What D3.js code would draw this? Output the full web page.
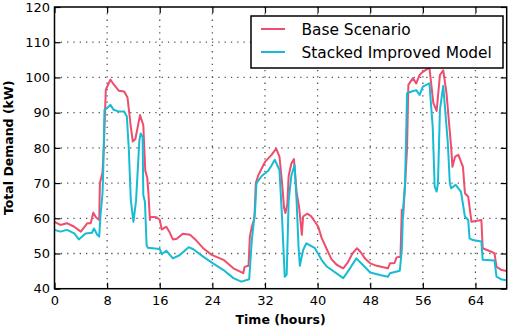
<!DOCTYPE html>
<html>
<head>
<meta charset="utf-8">
<script src="https://cdn.jsdelivr.net/npm/d3@7"></script>
<style>
  body { margin: 0; background: #fff; }
  text { font-family: "DejaVu Sans", sans-serif; fill: #000; }
</style>
</head>
<body>
<div id="my_dataviz"></div>
<script>
// data (hours, kW)
const baseHours = [0,0.9,1.9,3,4,5,5.5,5.9,6.3,6.8,6.9,7.3,7.5,7.8,8.5,9,9.8,10.6,11.1,11.6,11.9,12.3,13,13.5,13.8,14.1,14.3,14.5,14.6,15.5,16,16.3,17,17.5,18,18.6,19.5,20.6,21.5,22.6,23.9,25.7,27.2,28.7,28.9,29.5,29.7,30,30.4,30.6,31,32,33,33.7,34.2,34.6,34.9,35.1,35.4,35.6,36,36.4,36.8,37.2,37.6,37.8,38.4,39,39.6,40.1,40.6,41.4,42.1,42.9,43.9,44.6,45.3,46,46.5,47.2,48,49,50,50.7,51,51.7,52,52.6,52.8,53,53.3,53.6,53.8,54.5,55,55.5,56,57,57.6,58.1,58.6,59.1,59.6,60.1,60.3,60.5,60.9,61.4,62.1,62.4,62.9,63.4,64.9,65.1,66.4,66.9,67.2,68,68.75];
const baseDemand = [59,58.1,58.6,57.6,56.2,58.6,58.6,61.6,60.3,59.5,70,73,80.3,96.5,99.4,98,96.2,96,94.3,86,81.8,82.5,89.3,86.5,73.5,71.5,66.6,59.5,60.4,60.3,59.6,56.8,57.6,56,54,54.2,55.6,55.3,53.8,51.5,49.6,48.2,45.8,44.4,46.2,46.5,54.8,57.6,60,70,72.3,76,78,79.8,77.5,70,63,61.5,64,72,75.5,76.8,67.5,63,55.3,60.5,61.3,60.6,59,57.6,54.5,51.2,48.4,46.8,45.8,47.5,50,51.5,50.5,48.6,47.2,46.5,46.1,45.8,47.2,47.3,48.9,49.1,62.4,60.5,69.5,80,97.9,99.8,98.3,100.7,101.6,102.8,92.7,90.5,100.7,102,95.5,84.6,80.3,74.6,77.5,78,74.6,67.1,66.1,59,59.5,51.5,50.5,50,46.2,45.3,45];

const stackedHours = [0,0.9,1.9,3,3.7,4.7,5.7,6,6.5,6.8,7,7.3,7.4,7.6,7.9,8.5,9,9.8,10.6,11,11.3,11.6,12,12.4,12.9,13.1,13.4,13.5,13.75,14,14.2,16,16.3,17,18,19,20.4,21.1,22.6,24.1,25.7,27.2,28.4,29.6,30,30.5,30.7,31.5,32.5,33,33.5,34.2,34.6,35,35.3,35.6,36,36.5,36.8,37.1,37.3,37.8,38.3,39.6,40.6,41.4,43.9,45,45.9,47,48,49.5,50.7,51,52.5,52.8,53,53.3,53.6,54.3,55,55.5,56,57,57.5,57.8,58.1,58.3,58.6,59.1,59.8,60.1,60.3,61,61.8,62.4,62.9,63.1,63.6,64.9,65.1,66.9,67.2,68,68.75];
const stackedDemand = [56.7,56.2,56.7,55.7,54,55.7,55.9,57.1,55.3,54.8,61,67.1,72.8,90.8,91.2,92.2,90.8,90.3,90.3,88.9,79.6,65.2,59,65,82,84.1,83,66.6,64.7,52.4,51.6,51.3,49.8,50.8,48.6,49.5,51.8,51.2,49.1,47.2,45.3,43,42,42.7,53.8,62.4,70,72,73.5,75,76.6,73.7,60,43.4,44,65,72,75.1,65.2,52,46.5,51,52.9,51.5,48.2,46.3,43,46,48.6,46.5,44.6,43.9,43.4,44.4,45.1,51,62.4,70,95.5,96,96.4,95,97.4,98.3,86,69,67.6,70,90.8,97.6,81.3,70,68.5,69.5,67.5,60.5,59.5,54.3,53.8,53.4,48.2,48,43.4,42.6,42.4];

const seriesNames = ["Base Scenario", "Stacked Improved Model"];
const seriesColors = ["#ee4d6d", "#16bcd4"];

const xTicks = [0, 8, 16, 24, 32, 40, 48, 56, 64];
const yTicks = [40, 50, 60, 70, 80, 90, 100, 110, 120];

// set the dimensions and margins of the graph
const margin = { top: 7, right: 5.3, bottom: 41.3, left: 54.5 },
  width = 512 - margin.left - margin.right,
  height = 330 - margin.top - margin.bottom;

const svg = d3.select("#my_dataviz")
  .append("svg")
  .attr("width", 512)
  .attr("height", 330)
  .append("g")
  .attr("transform", `translate(${margin.left},${margin.top})`);

const x = d3.scaleLinear().domain([0, 68.75]).range([0, width]);
const y = d3.scaleLinear().domain([40, 120]).range([height, 0]);

// dotted grid
svg.append("g").selectAll("line")
  .data(xTicks.filter(d => d > 0))
  .join("line")
  .attr("x1", d => x(d)).attr("x2", d => x(d))
  .attr("y1", 0).attr("y2", height)
  .attr("stroke", "#555").attr("stroke-width", 1.3)
  .attr("stroke-dasharray", "1.3,5");
svg.append("g").selectAll("line")
  .data(yTicks.filter(d => d > 40 && d < 120))
  .join("line")
  .attr("x1", 0).attr("x2", width)
  .attr("y1", d => y(d)).attr("y2", d => y(d))
  .attr("stroke", "#555").attr("stroke-width", 1.3)
  .attr("stroke-dasharray", "1.3,5");

// lines
const series = [
  { hours: baseHours, demand: baseDemand },
  { hours: stackedHours, demand: stackedDemand }
];
const line = d3.line()
  .x(d => x(d[0]))
  .y(d => y(d[1]));

series.forEach((s, i) => {
  svg.append("path")
    .datum(s.hours.map((h, j) => [h, s.demand[j]]))
    .attr("fill", "none")
    .attr("stroke", seriesColors[i])
    .attr("stroke-width", 2)
    .attr("stroke-linejoin", "round")
    .attr("d", line);
});

// axes, ticks pointing inward
const xAxis = svg.append("g")
  .attr("transform", `translate(0, ${height})`)
  .call(d3.axisBottom(x).tickValues(xTicks).tickSizeInner(-6).tickSizeOuter(0).tickPadding(7));
const yAxis = svg.append("g")
  .call(d3.axisLeft(y).tickValues(yTicks).tickSizeInner(-6).tickSizeOuter(0).tickPadding(4.5));
svg.append("g")
  .call(d3.axisTop(x).tickValues(xTicks).tickSizeInner(-6).tickSizeOuter(0).tickFormat(""));
svg.append("g")
  .attr("transform", `translate(${width}, 0)`)
  .call(d3.axisRight(y).tickValues(yTicks).tickSizeInner(-6).tickSizeOuter(0).tickFormat(""));

svg.selectAll(".domain").remove();
svg.selectAll(".tick line").attr("stroke", "#000").attr("stroke-width", 1.2);
svg.selectAll(".tick text")
  .style("font-size", "13px")
  .style("font-family", "DejaVu Sans")
  .attr("fill", "#000");

// frame
svg.append("rect")
  .attr("width", width).attr("height", height)
  .attr("fill", "none").attr("stroke", "#000").attr("stroke-width", 1.5);

// axis titles
svg.append("text")
  .attr("x", width / 2).attr("y", 324 - margin.top)
  .attr("text-anchor", "middle")
  .style("font-size", "12.5px").style("font-weight", "bold")
  .text("Time (hours)");
svg.append("text")
  .attr("transform", `translate(${13 - margin.left}, ${height / 2}) rotate(-90)`)
  .attr("text-anchor", "middle")
  .style("font-size", "12.5px").style("font-weight", "bold")
  .text("Total Demand (kW)");

// legend
const legend = svg.append("g").attr("transform", `translate(${251 - margin.left}, ${16 - margin.top})`);
legend.append("rect")
  .attr("width", 252).attr("height", 52)
  .attr("fill", "#fff").attr("stroke", "#000").attr("stroke-width", 1.5);
seriesNames.forEach((name, i) => {
  legend.append("line")
    .attr("x1", 10).attr("x2", 34)
    .attr("y1", 13 + i * 23).attr("y2", 13 + i * 23)
    .attr("stroke", seriesColors[i]).attr("stroke-width", 2);
  legend.append("text")
    .attr("x", 50.5).attr("y", 13 + i * 23)
    .attr("dy", "0.36em")
    .style("font-size", "15.4px")
    .text(name);
});
</script>
</body>
</html>
